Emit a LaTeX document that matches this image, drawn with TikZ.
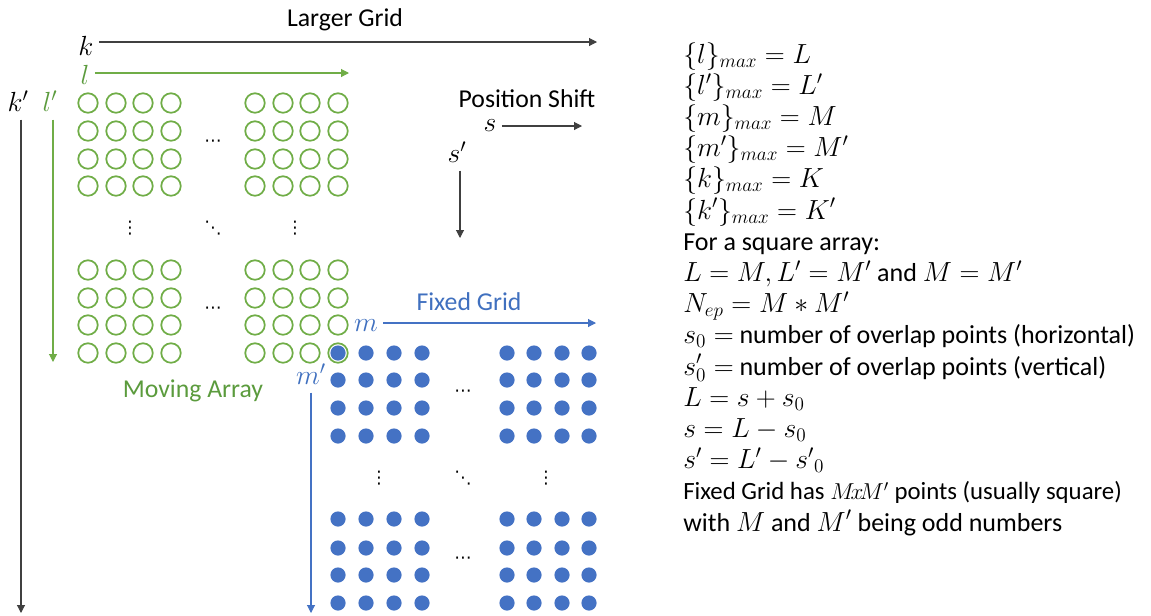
\documentclass[tikz,border=0pt]{standalone}
\usepackage{fontspec}
\setmainfont{Carlito}
\newfontfamily\dejavu{DejaVu Sans}
\usetikzlibrary{arrows.meta}
\definecolor{gcol}{HTML}{70AD47}
\definecolor{gtxt}{HTML}{5B9B3D}
\definecolor{bcol}{HTML}{4472C4}
\definecolor{btxt}{HTML}{4070BF}
\definecolor{acol}{HTML}{404040}
\begin{document}
\begin{tikzpicture}[x=0.75pt,y=-0.75pt,
  lbl/.style={inner sep=0pt, font=\fontsize{19.3}{22}\selectfont},
  gcirc/.style={circle, draw=gcol, line width=1.3pt, minimum size=14.6pt, inner sep=0pt},
  bdot/.style={circle, fill=bcol, minimum size=11.4pt, inner sep=0pt},
  karr/.style={draw=acol, line width=0.8pt, -{Triangle[length=6pt,width=6pt]}},
  garr/.style={draw=gcol, line width=0.8pt, -{Triangle[length=6pt,width=6pt]}},
  barr/.style={draw=bcol, line width=0.8pt, -{Triangle[length=6pt,width=6pt]}},
  eq/.style={anchor=base west, inner sep=0pt, font=\fontsize{19.5}{23}\selectfont},
  dotsn/.style={inner sep=0pt, font=\dejavu\fontsize{13}{15}\selectfont}
]
\useasboundingbox (0,0) rectangle (1151,615);

% green moving array
\foreach \x [count=\i] in {88,116,143,171,255,283,310,338}
  \foreach \y [count=\j] in {103,131,159,186,270,298,325,353}
    \node[gcirc] (g-\i-\j) at (\x,\y) {};
% blue fixed grid
\foreach \x [count=\i] in {338,366,394,422,507,534,562,589}
  \foreach \y [count=\j] in {353,380,408,436,519,548,575,603}
    \node[bdot] (b-\i-\j) at (\x,\y) {};

% ellipses
\node[dotsn] (gd1) at (213,143) {⋯};
\node[dotsn] (gd2) at (213,310) {⋯};
\node[dotsn] (gv1) at (130,228) {⋮};
\node[dotsn] (gdd) at (213,228) {⋱};
\node[dotsn] (gv2) at (295,228) {⋮};
\node[dotsn] (bd1) at (463,393) {⋯};
\node[dotsn] (bd2) at (463,560) {⋯};
\node[dotsn] (bv1) at (379,478) {⋮};
\node[dotsn] (bdd) at (463,478) {⋱};
\node[dotsn] (bv2) at (546,478) {⋮};

% Larger grid axes
\node[lbl] (larger) at (345,20) {Larger Grid};
\node[lbl] (k) at (86,46) {$k$};
\coordinate (kend) at (597,42);
\draw[karr, shorten <=4pt] (k.east |- kend) -- (kend);
\node[lbl] (kp) at (18,101) {$k'$};
\coordinate (kpend) at (21,613);
\draw[karr, shorten <=6pt] (kpend |- kp.south) -- (kpend);

% moving array axes
\node[lbl, text=gtxt] (l) at (85,75) {$l$};
\coordinate (lend) at (349,73);
\draw[garr, shorten <=4pt] (l.east |- lend) -- (lend);
\node[lbl, text=gtxt] (lp) at (50,101) {$l'$};
\coordinate (lpend) at (53,362);
\draw[garr, shorten <=6pt] (lpend |- lp.south) -- (lpend);
\node[lbl, text=gtxt] (moving) at (193,391) {Moving Array};

% position shift
\node[lbl] (pshift) at (527,99) {Position Shift};
\node[lbl] (s) at (490,126) {$s$};
\coordinate (send) at (582,126);
\draw[karr, shorten <=4pt] (s.east |- send) -- (send);
\node[lbl] (sp) at (457,152) {$s'$};
\coordinate (spend) at (460,238);
\draw[karr, shorten <=6pt] (spend |- sp.south) -- (spend);

% fixed grid axes
\node[lbl, text=btxt] (fixed) at (469,302) {Fixed Grid};
\node[lbl, text=btxt] (m) at (366,326) {$m$};
\coordinate (mend) at (596,323);
\draw[barr, shorten <=4pt] (m.east |- mend) -- (mend);
\node[lbl, text=btxt] (mp) at (311,374) {$m'$};
\coordinate (mpend) at (311,613);
\draw[barr, shorten <=6pt] (mpend |- mp.south) -- (mpend);

% equations
\node[eq] (e0)  at (683,63.0)  {$\{l\}_{max} = L$};
\node[eq] (e1)  at (683,94.2)  {$\{l'\}_{max} = L'$};
\node[eq] (e2)  at (683,125.4) {$\{m\}_{max} = M$};
\node[eq] (e3)  at (683,156.6) {$\{m'\}_{max} = M'$};
\node[eq] (e4)  at (683,187.8) {$\{k\}_{max} = K$};
\node[eq] (e5)  at (683,219.0) {$\{k'\}_{max} = K'$};
\node[eq] (e6)  at (683,250.2) {For a square array:};
\node[eq] (e7)  at (683,281.4) {$L = M, L' = M'$ and $M = M'$};
\node[eq] (e8)  at (683,312.6) {$N_{ep} = M * M'$};
\node[eq] (e9)  at (683,343.8) {$s_0 =$ number of overlap points (horizontal)};
\node[eq] (e10) at (683,375.0) {$s_0' =$ number of overlap points (vertical)};
\node[eq] (e11) at (683,406.2) {$L = s + s_0$};
\node[eq] (e12) at (683,437.4) {$s = L - s_0$};
\node[eq] (e13) at (683,468.6) {$s' = L' - {s'}_0$};
\node[eq, font=\fontsize{18.6}{23}\selectfont] (e14) at (683,499.8) {Fixed Grid has $M\!x\!M'$ points (usually square)};
\node[eq] (e15) at (683,531.0) {with $M$ and $M'$ being odd numbers};
\end{tikzpicture}
\end{document}
